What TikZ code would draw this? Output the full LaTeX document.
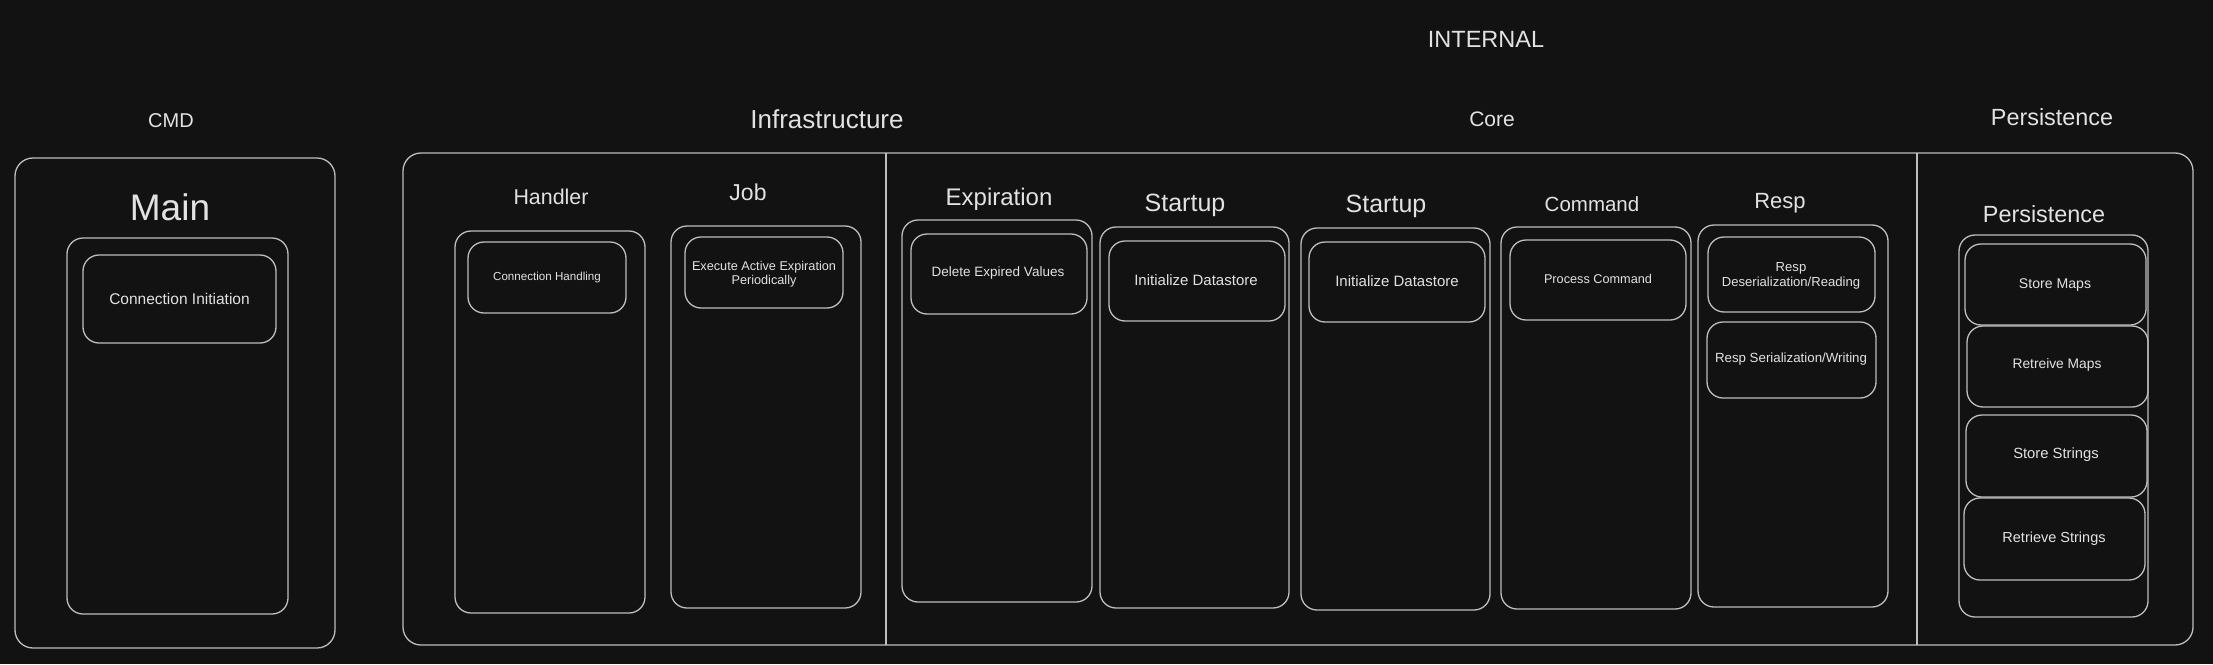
\documentclass[tikz,border=0pt]{standalone}
\usepackage{fontspec}
\setmainfont{Liberation Sans}
\definecolor{bgc}{HTML}{121212}
\definecolor{linec}{HTML}{BEBEBE}
\definecolor{txtc}{HTML}{E2E2E2}
\tikzset{
  box/.style={draw=linec, line width=1.3pt, rounded corners=16pt, inner sep=0pt, outer sep=0pt},
  lbl/.style={text=txtc, inner sep=0pt, align=center},
}
\newcommand\fs[1]{\fontsize{#1}{#1}\selectfont}
\newcommand\bx[6][]{%
  \pgfmathsetmacro\myBW{#5-#3}\pgfmathsetmacro\myBH{#6-#4}%
  \node[box,#1,minimum width=\myBW pt,minimum height=\myBH pt] (#2) at ({(#3+#5)/2},{(#4+#6)/2}) {};}
\begin{document}
\begin{tikzpicture}[x=1pt,y=-1pt]
\fill[bgc] (0,0) rectangle (2213,664);
\useasboundingbox (0,0) rectangle (2213,664);

% headings
\node[lbl, font=\fs{23.5}] (tInternal) at (1486,39) {INTERNAL};
\node[lbl, font=\fs{20}] (tCmd) at (171,121) {CMD};
\node[lbl, font=\fs{26}] (tInfra) at (827,119) {Infrastructure};
\node[lbl, font=\fs{21}] (tCore) at (1492,119) {Core};
\node[lbl, font=\fs{23.4}] (tPers) at (2052,117) {Persistence};

% CMD
\bx[rounded corners=18pt]{cmd}{15}{158}{335}{648}
\node[lbl, font=\fs{37}] (tMain) at (170,207) {Main};
\bx{mainbox}{67}{238}{288}{614}
\bx{conninit}{83}{255}{276}{343}
\node[lbl, font=\fs{15.5}] at (conninit) {Connection Initiation};

% big container
\bx[rounded corners=18pt]{internal}{403}{153}{2193}{645}
\coordinate (d1t) at (886,153); \coordinate (d1b) at (886,645);
\coordinate (d2t) at (1917,153); \coordinate (d2b) at (1917,645);
\draw[draw=linec, line width=1.3pt] (d1t) -- (d1b);
\draw[draw=linec, line width=1.3pt] (d2t) -- (d2b);

% Handler
\node[lbl, font=\fs{21.4}] (tHandler) at (551,197) {Handler};
\bx{handler}{455}{231}{645}{613}
\bx{connhand}{468}{242}{626}{313}
\node[lbl, font=\fs{11.6}] at (547,277) {Connection Handling};

% Job
\node[lbl, font=\fs{23}] (tJob) at (748,192) {Job};
\bx{job}{671}{226}{861}{608}
\bx{exec}{685}{237}{843}{308}
\node[lbl, font=\fontsize{12.7}{14}\selectfont] at (764,274) {Execute Active Expiration\\Periodically};

% Expiration
\node[lbl, font=\fs{24}] (tExp) at (999,199) {Expiration};
\bx{expir}{902}{220}{1092}{602}
\bx{delexp}{911}{234}{1087}{314}
\node[lbl, font=\fs{13.5}] at (998,273) {Delete Expired Values};

% Startup 1
\node[lbl, font=\fs{25}] (tStart1) at (1185,205) {Startup};
\bx{start1}{1100}{227}{1289}{608}
\bx{init1}{1109}{241}{1285}{321}
\node[lbl, font=\fs{15}] at (1196,280) {Initialize Datastore};

% Startup 2
\node[lbl, font=\fs{25}] (tStart2) at (1386,206) {Startup};
\bx{start2}{1301}{228}{1490}{610}
\bx{init2}{1309}{242}{1485}{322}
\node[lbl, font=\fs{15}] at (1397,281) {Initialize Datastore};

% Command
\node[lbl, font=\fs{20.5}] (tCmdCore) at (1592,204) {Command};
\bx{command}{1501}{227}{1691}{609}
\bx{process}{1510}{240}{1686}{320}
\node[lbl, font=\fs{12.7}] at (1598,279) {Process Command};

% Resp
\node[lbl, font=\fs{22}] (tResp) at (1780,203) {Resp};
\bx{resp}{1698}{225}{1888}{607}
\bx{deser}{1708}{237}{1875}{312}
\node[lbl, font=\fontsize{13.1}{15}\selectfont] at (1791,276) {Resp\\Deserialization/Reading};
\bx{ser}{1707}{322}{1876}{398}
\node[lbl, font=\fs{13.3}] at (1791,359) {Resp Serialization/Writing};

% Persistence
\node[lbl, font=\fs{23.4}] (tPersIn) at (2044,214) {Persistence};
\bx{persist}{1959}{235}{2148}{617}
\bx{storemaps}{1965}{244}{2146}{325}
\node[lbl, font=\fs{14.1}] at (2055,285) {Store Maps};
\bx{retmaps}{1967}{326}{2148}{407}
\node[lbl, font=\fs{13.8}] at (2057,365) {Retreive Maps};
\bx{storestr}{1966}{415}{2147}{497}
\node[lbl, font=\fs{14.8}] at (2056,455) {Store Strings};
\bx{retstr}{1964}{498}{2145}{580}
\node[lbl, font=\fs{14.5}] at (2054,539) {Retrieve Strings};
\end{tikzpicture}
\end{document}
